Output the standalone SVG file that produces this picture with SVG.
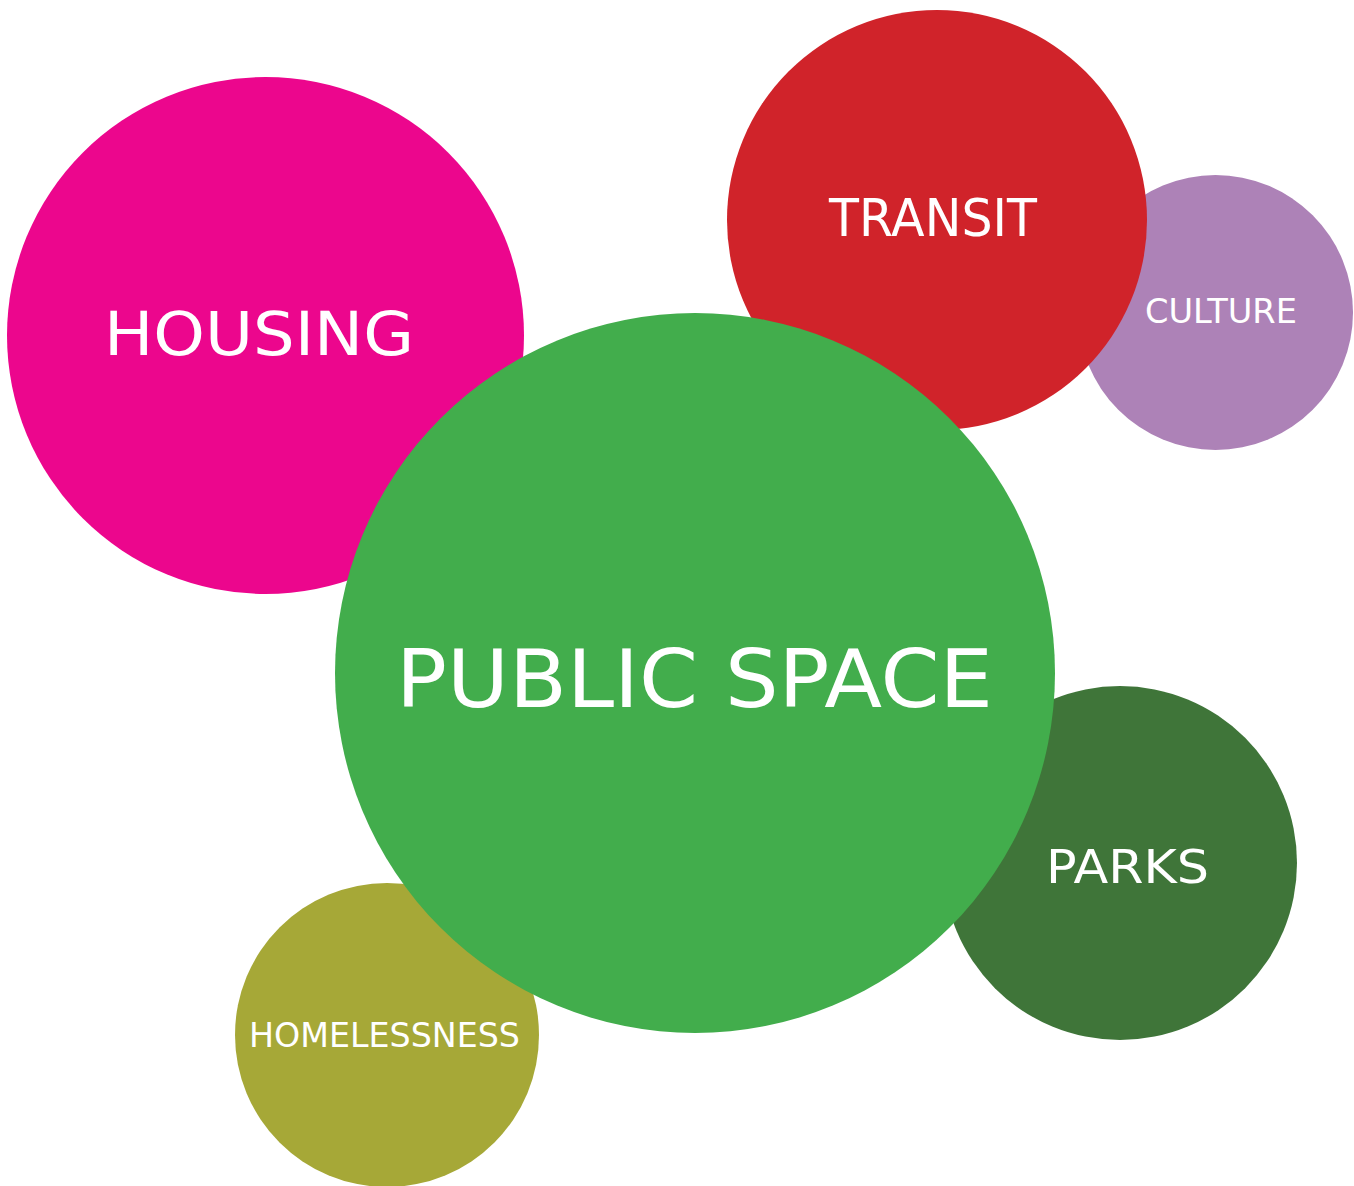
<svg xmlns="http://www.w3.org/2000/svg" width="1354" height="1186" viewBox="0 0 1354 1186">
<style>
text{font-family:"DejaVu Sans","Liberation Sans",sans-serif;fill:#ffffff;font-weight:normal}
</style>
<rect width="1354" height="1186" fill="#ffffff"/>
<g id="housing"><circle cx="265.5" cy="335.5" r="258.5" fill="#EC068D"/><text x="104" y="355" font-size="61" textLength="310" lengthAdjust="spacingAndGlyphs">HOUSING</text></g>
<g id="homelessness"><circle cx="387" cy="1035" r="152" fill="#A6A837"/><text x="249" y="1047" font-size="33" textLength="271" lengthAdjust="spacingAndGlyphs">HOMELESSNESS</text></g>
<g id="parks"><circle cx="1120" cy="863" r="177" fill="#3F7539"/><text x="1046" y="883" font-size="46" textLength="163" lengthAdjust="spacingAndGlyphs">PARKS</text></g>
<g id="culture"><circle cx="1215.5" cy="312.5" r="137.5" fill="#AD82B7"/><text x="1145" y="323" font-size="33" textLength="152" lengthAdjust="spacingAndGlyphs">CULTURE</text></g>
<g id="transit"><circle cx="937" cy="220" r="210" fill="#D0232A"/><text x="829" y="236" font-size="51" textLength="208" lengthAdjust="spacingAndGlyphs">TRANSIT</text></g>
<g id="public-space"><circle cx="695" cy="673" r="360" fill="#42AD4C"/><text x="396" y="707" font-size="80" textLength="597" lengthAdjust="spacingAndGlyphs">PUBLIC SPACE</text></g>
<g id="connectors"/>
</svg>
